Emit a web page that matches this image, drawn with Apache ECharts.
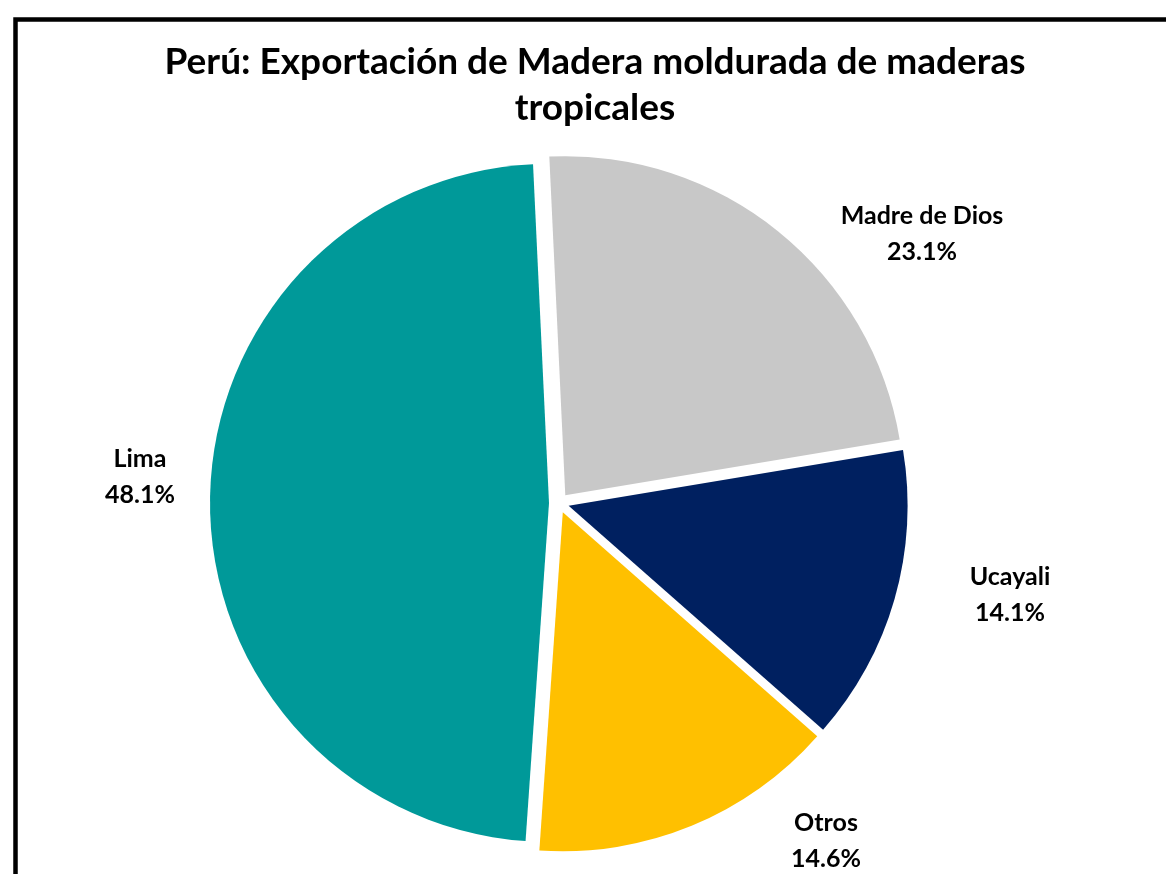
<!DOCTYPE html>
<html>
<head>
<meta charset="utf-8">
<script src="https://cdn.jsdelivr.net/npm/echarts@6/dist/echarts.min.js"></script>
<style>
  html, body { margin: 0; padding: 0; background: #fff; }
  #chart { width: 1166px; height: 874px; }
</style>
</head>
<body>
<div id="chart"></div>
<script>
// datos del gráfico
var regiones = ["Madre de Dios", "Ucayali", "Otros", "Lima"];
var participacion = [23.1, 14.1, 14.6, 48.1];
var colores = ["#C8C8C8", "#002060", "#FFC000", "#009999"];

// posición de las etiquetas (estilo, como en el original)
var posEtiquetas = [[922, 234], [1010, 595], [826, 841], [140, 477]];

var pieComun = {
  type: "pie",
  center: [559, 503],
  radius: [0, 339],
  startAngle: 92.7,
  clockwise: true,
  emphasis: { disabled: true }
};

var chart = echarts.init(document.getElementById("chart"));
chart.setOption({
  animation: false,
  title: {
    text: "Perú: Exportación de Madera moldurada de maderas\ntropicales",
    left: 590,
    top: 34,
    textAlign: "center",
    textStyle: {
      fontFamily: "Lato",
      fontWeight: "bold",
      fontSize: 37,
      lineHeight: 46,
      color: "#000"
    }
  },
  graphic: [{
    type: "rect",
    shape: { x: 15.5, y: 19.5, width: 1200, height: 900 },
    style: { fill: "none", stroke: "#000", lineWidth: 4.5 }
  }],
  series: [
    // sectores separados
    Object.assign({}, pieComun, {
      selectedMode: "multiple",
      selectedOffset: 10,
      itemStyle: { borderWidth: 0 },
      label: { show: false },
      labelLine: { show: false },
      data: regiones.map(function (r, i) {
        return {
          name: r,
          value: participacion[i],
          selected: true,
          itemStyle: { color: colores[i] }
        };
      })
    }),
    // etiquetas de datos
    Object.assign({}, pieComun, {
      silent: true,
      selectedMode: false,
      itemStyle: { color: "rgba(0,0,0,0)", borderWidth: 0 },
      label: {
        show: true,
        position: "outside",
        formatter: function (p) { return p.name + "\n" + p.value.toFixed(1) + "%"; },
        fontFamily: "Lato",
        fontWeight: "bold",
        fontSize: 25,
        lineHeight: 36,
        color: "#000"
      },
      labelLine: { show: false },
      labelLayout: function (params) {
        var pos = posEtiquetas[params.dataIndex];
        return { x: pos[0], y: pos[1], align: "center", verticalAlign: "middle" };
      },
      data: regiones.map(function (r, i) {
        return { name: r, value: participacion[i] };
      })
    })
  ]
});
</script>
</body>
</html>
